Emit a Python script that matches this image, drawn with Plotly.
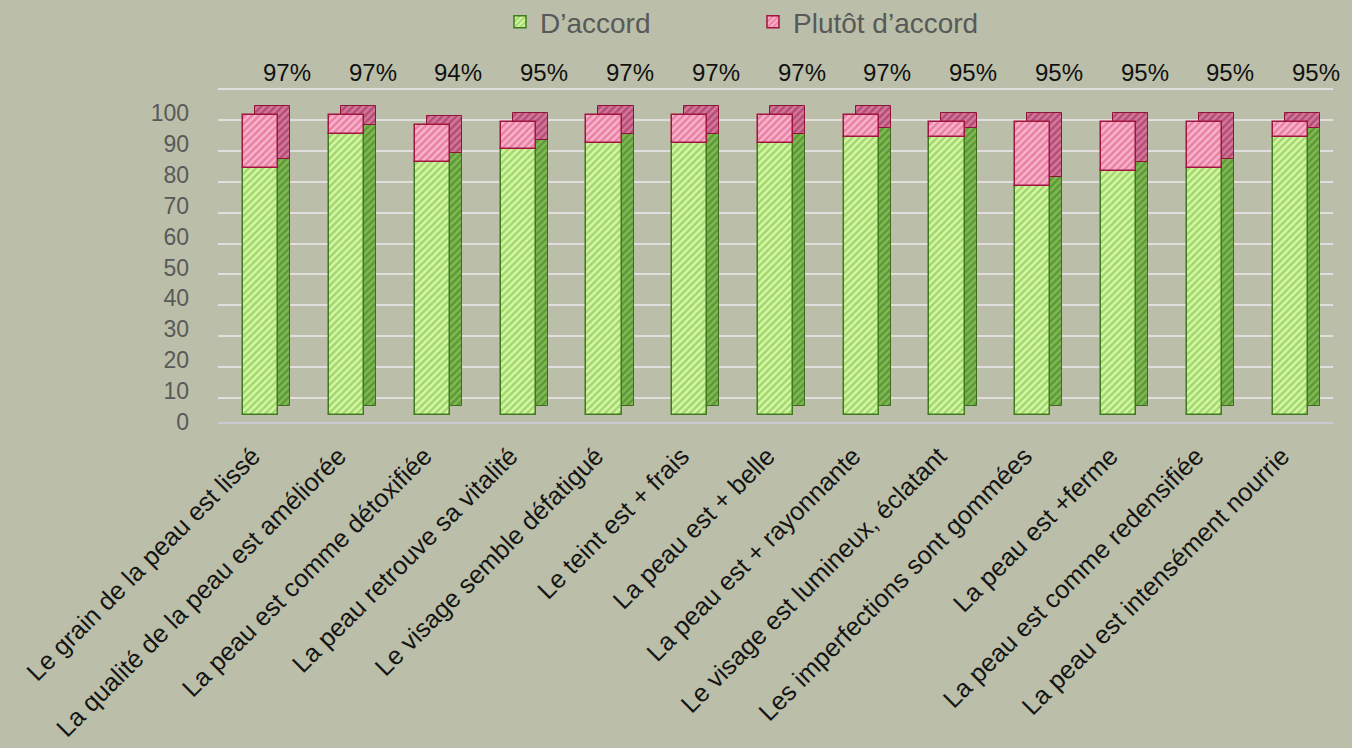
import plotly.graph_objects as go

categories = [
    "Le grain de la peau est lissé",
    "La qualité de la peau est améliorée",
    "La peau est comme détoxifiée",
    "La peau retrouve sa vitalité",
    "Le visage semble défatigué",
    "Le teint est + frais",
    "La peau est + belle",
    "La peau est + rayonnante",
    "Le visage est lumineux, éclatant",
    "Les imperfections sont gommées",
    "La peau est +ferme",
    "La peau est comme redensifiée",
    "La peau est intensément nourrie",
]
daccord = [80, 91, 82, 86, 88, 88, 88, 90, 90, 74, 79, 80, 90]
totals = [97, 97, 94, 95, 97, 97, 97, 97, 95, 95, 95, 95, 95]
plutot = [t - d for t, d in zip(totals, daccord)]

BG = "#BBBFA9"
W = 0.41      # bar width (category units)
DX = 0.14     # depth, horizontal
DY = 2.9      # depth, vertical (value units)
GRID_SHIFT = 5.5  # back wall offset

x = list(range(len(categories)))

fig = go.Figure()

# depth faces (drawn behind the front faces)
fig.add_trace(go.Bar(
    x=x, y=daccord, base=[DY] * len(x), width=W, offset=-W / 2 + DX,
    marker=dict(color="#7DB450", line=dict(color="#3C6E1E", width=1),
                pattern=dict(shape="/", fgcolor="#3A7420", bgcolor="#80BA52",
                             size=5, solidity=0.5)),
    showlegend=False, hoverinfo="skip"))
fig.add_trace(go.Bar(
    x=x, y=plutot, base=[d + DY for d in daccord], width=W, offset=-W / 2 + DX,
    marker=dict(color="#CC6A90", line=dict(color="#8E1538", width=1),
                pattern=dict(shape="/", fgcolor="#922052", bgcolor="#D4789A",
                             size=5, solidity=0.5)),
    showlegend=False, hoverinfo="skip"))

# front faces
fig.add_trace(go.Bar(
    x=x, y=daccord, base=[0] * len(x), width=W, offset=-W / 2,
    name="D’accord",
    marker=dict(color="#CFF59A", line=dict(color="#3F7A1E", width=1.5),
                pattern=dict(shape="/", fgcolor="#6CB83A", bgcolor="#D6F7A4",
                             size=5, solidity=0.5))))
fig.add_trace(go.Bar(
    x=x, y=plutot, base=daccord, width=W, offset=-W / 2,
    name="Plutôt d’accord",
    marker=dict(color="#F6A6C2", line=dict(color="#A0163F", width=1.5),
                pattern=dict(shape="/", fgcolor="#D94A80", bgcolor="#F8B4CA",
                             size=5, solidity=0.5))))

ticks = list(range(0, 101, 10))

for i, t in enumerate(totals):
    fig.add_annotation(x=i, y=1.0387, xref="x", yref="paper", text=f"{t}%",
                       showarrow=False, xshift=26, yanchor="middle",
                       font=dict(size=24, color="#111111"))

fig.update_layout(
    width=1352, height=748,
    paper_bgcolor=BG, plot_bgcolor=BG,
    barmode="overlay", bargap=0,
    margin=dict(l=218, r=19, t=86, b=326, autoexpand=False),
    font=dict(family="Liberation Sans, Arial, sans-serif", size=22, color="#595959"),
    legend=dict(orientation="h", x=0.2529, xanchor="left", y=0.9706, yref="container",
                yanchor="middle", font=dict(size=28, color="#595959"),
                entrywidth=208, traceorder="normal", bgcolor="rgba(0,0,0,0)"),
    xaxis=dict(tickmode="array", tickvals=x, ticktext=categories, tickangle=-45,
               range=[-0.5, len(x) - 0.5], showgrid=False, zeroline=False,
               showline=True, linecolor="#C9C9D6", linewidth=2,
               ticklabelshift=-8, ticklabelstandoff=7,
               tickfont=dict(size=25.5, color="#151515")),
    yaxis=dict(range=[-2.27, 106.5], tickmode="array",
               tickvals=[v + GRID_SHIFT for v in ticks],
               ticktext=[str(v) for v in ticks],
               ticklabelshift=24, ticklabelstandoff=28,
               showgrid=True, gridcolor="#E2DEDD", gridwidth=2,
               zeroline=False, showline=False,
               tickfont=dict(size=23, color="#595959")),
)

fig.write_html("out.html", config={"displayModeBar": False},
               post_script="document.body.style.margin='0px';")
